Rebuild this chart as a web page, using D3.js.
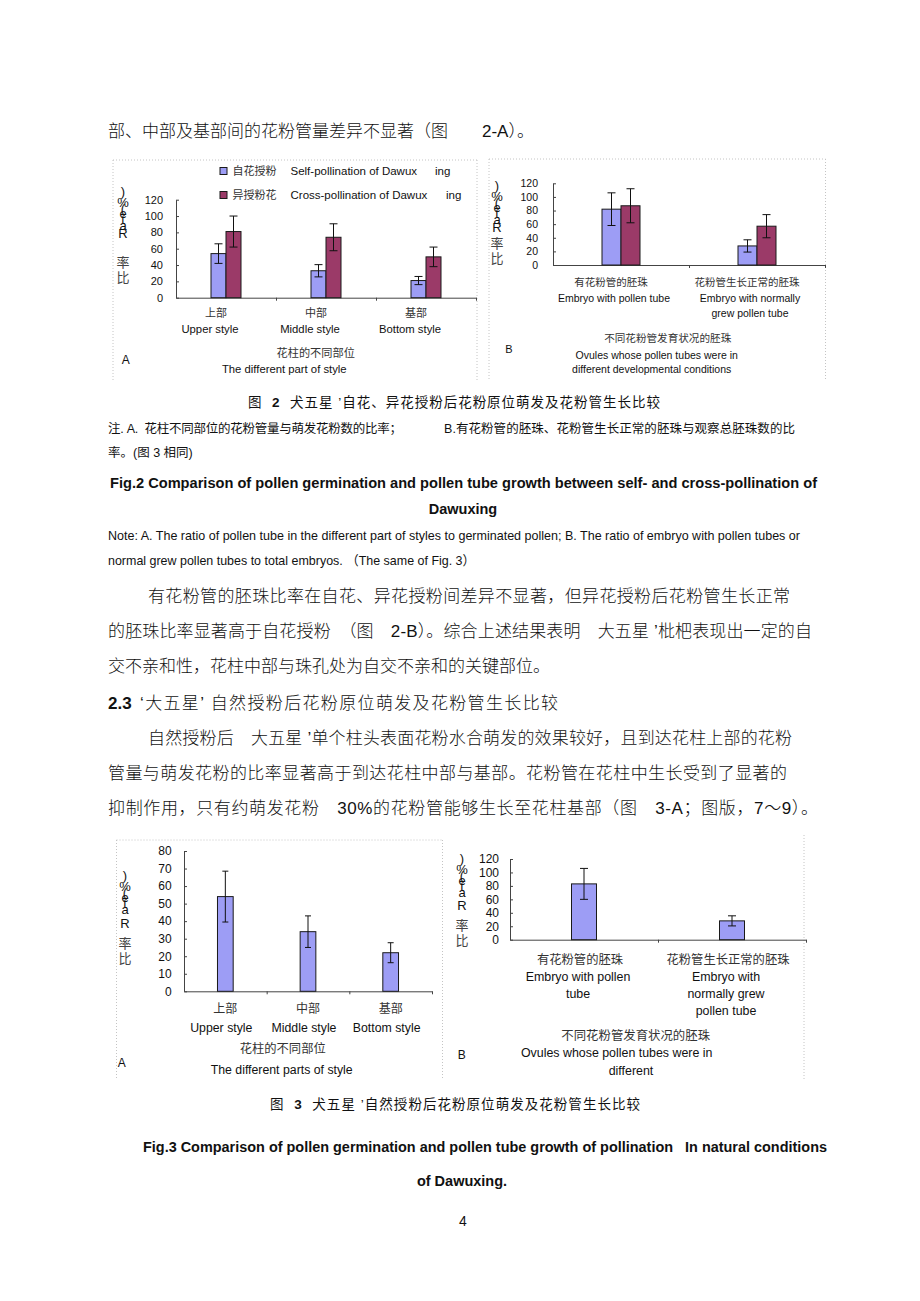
<!DOCTYPE html>
<html>
<head>
<meta charset="utf-8">
<script src="https://cdn.jsdelivr.net/npm/d3@7"></script>
<style>
body{margin:0;background:#fff}
svg{display:block}
text{font-family:"Liberation Sans","Noto Sans CJK SC",sans-serif;white-space:pre}
</style>
</head>
<body>
<svg id="page" width="920" height="1301"></svg>
<script>
// categories
const partsCn = ["上部", "中部", "基部"];
const partsEn = [["Upper style"], ["Middle style"], ["Bottom style"]];
const ovuleCn = ["有花粉管的胚珠", "花粉管生长正常的胚珠"];
const ovuleEn2 = [["Embryo with pollen tube"], ["Embryo with normally", "grew pollen tube"]];
const ovuleEn3 = [["Embryo with pollen", "tube"], ["Embryo with", "normally grew", "pollen tube"]];

// fig 2A: style parts, self vs cross
const selfStyle2 = [54, 33, 21];
const selfStyleErr2 = [12, 7.5, 5];
const crossStyle2 = [81, 74, 50];
const crossStyleErr2 = [19, 16.5, 12];
// fig 2B: ovules
const selfOvule2 = [82, 28];
const selfOvuleErr2 = [24, 9];
const crossOvule2 = [87, 57];
const crossOvuleErr2 = [25, 17];
// fig 3: natural pollination
const natStyle3 = [54, 34, 22];
const natStyleErr3 = [14.5, 9, 5.7];
const natOvule3 = [83, 28];
const natOvuleErr3 = [23, 7.5];

// tick labels
const ticks120 = [0, 20, 40, 60, 80, 100, 120];
const ticks80 = [0, 10, 20, 30, 40, 50, 60, 70, 80];

const selfColor = "#9d9df5";
const crossColor = "#9b3a68";

const svg = d3.select("#page");
svg.append("rect").attr("width", 920).attr("height", 1301).attr("fill", "#fff");

function txt(x, y, s, o = {}) {
    const t = svg.append("text")
        .attr("x", x).attr("y", y)
        .attr("font-size", o.size || 17)
        .attr("fill", o.fill || "#111")
        .text(s);
    if (o.bold) t.attr("font-weight", "bold");
    if (o.light) t.attr("font-weight", 300);
    if (o.anchor) t.attr("text-anchor", o.anchor);
    if (o.len) t.attr("textLength", o.len).attr("lengthAdjust", o.adj || "spacing");
    return t;
}

// caption with a bold figure number: 图  N  ...
function caption(x, y, num, rest, len) {
    const t = svg.append("text").attr("x", x).attr("y", y)
        .attr("font-size", 13.5).attr("fill", "#111")
        .attr("textLength", len).attr("lengthAdjust", "spacing");
    t.append("tspan").text("图  ");
    t.append("tspan").attr("font-weight", "bold").text(num);
    t.append("tspan").text("  " + rest);
}

function frame(lines) {
    lines.forEach(l => svg.append("line")
        .attr("x1", l[0]).attr("y1", l[1]).attr("x2", l[2]).attr("y2", l[3])
        .attr("stroke", "#c4c4c4").attr("stroke-dasharray", "1,2"));
}

// the broken vertical axis title: 比率 Rate(%), glyphs piled up as in the scan
function stackLabel(x, top, gapR, gapCn) {
    const glyphs = [[")", 0], ["%", 11], ["(", 17], ["e", 22], ["t", 28], ["a", 34], ["R", gapR],
                    ["率", gapCn], ["比", gapCn + 15]];
    const t = svg.append("text")
        .attr("text-anchor", "middle").attr("dominant-baseline", "central")
        .attr("font-size", 13).attr("fill", "#111");
    glyphs.forEach(d => t.append("tspan")
        .attr("x", x).attr("y", top + d[1])
        .attr("fill", /[\u4e00-\u9fff]/.test(d[0]) ? "#444" : "#111")
        .text(d[0]));
}

function barChart(o) {
    const g = svg.append("g");
    const x = d3.scaleBand().domain(o.cats).range(o.xr);
    const xb = d3.scaleLinear().domain([0, o.cats.length]).range(o.xr);
    const y = d3.scaleLinear().domain([0, d3.max(o.ticks)]).range(o.yr);
    const sub = d3.scaleBand().domain(d3.range(o.series.length))
        .range([-o.bw * o.series.length / 2, o.bw * o.series.length / 2]);

    const xa = g.append("g").attr("transform", `translate(0,${o.yr[0]})`)
        .call(d3.axisBottom(xb).tickValues(d3.range(1, o.cats.length + 1))
            .tickFormat("").tickSizeInner(3).tickSizeOuter(0));
    xa.selectAll("path,line").attr("stroke", "#444");

    const ya = g.append("g").attr("transform", `translate(${o.xr[0]},0)`)
        .call(d3.axisLeft(y).tickValues(o.ticks).tickSizeInner(-3).tickSizeOuter(0).tickPadding(o.pad));
    ya.selectAll("path,line").attr("stroke", "#444");
    ya.attr("font-family", null).attr("font-size", o.tickSize);
    ya.selectAll("text").attr("fill", "#111");

    o.series.forEach((s, si) => {
        s.values.forEach((v, i) => {
            const bx = x(o.cats[i]) + x.bandwidth() / 2 + sub(si);
            const cx = bx + sub.bandwidth() / 2;
            g.append("rect")
                .attr("x", bx).attr("y", y(v))
                .attr("width", sub.bandwidth()).attr("height", y(0) - y(v))
                .attr("fill", s.color).attr("stroke", "#1a1a1a").attr("stroke-width", 1);
            const e = s.err[i];
            const eb = g.append("g").attr("stroke", "#111").attr("stroke-width", 1);
            eb.append("line").attr("x1", cx).attr("x2", cx).attr("y1", y(v + e)).attr("y2", y(v - e));
            [v + e, v - e].forEach(t => eb.append("line")
                .attr("x1", cx - o.cap / 2).attr("x2", cx + o.cap / 2).attr("y1", y(t)).attr("y2", y(t)));
        });
    });

    o.cats.forEach((c, i) => {
        const cx = x(c) + x.bandwidth() / 2;
        txt(cx + o.cnDx, o.cnY, c, {size: o.cnSize, anchor: "middle", fill: "#333"});
        o.en[i].forEach((line, li) =>
            txt(cx + o.enDx, o.enY + li * o.enLh, line, {size: o.enSize, anchor: "middle"}));
    });
}

// ---------- body text above figure 2 ----------
txt(108, 137, "部、中部及基部间的花粉管量差异不显著（图　　2-A）。", {light: true});

// ---------- figure 2A ----------
frame([[113, 160, 113, 380], [113, 160, 477, 160], [477, 160, 477, 380]]);
barChart({
    cats: partsCn, en: partsEn, xr: [176, 476], yr: [297.7, 199.7], ticks: ticks120,
    pad: 13, tickSize: 11, bw: 15, cap: 8,
    series: [{values: selfStyle2, err: selfStyleErr2, color: selfColor},
             {values: crossStyle2, err: crossStyleErr2, color: crossColor}],
    cnY: 317, cnSize: 11, cnDx: -10, enY: 333, enLh: 15, enSize: 11.3, enDx: -16
});
stackLabel(123, 191, 42, 71);
svg.append("rect").attr("x", 220).attr("y", 167.5).attr("width", 7).attr("height", 7)
    .attr("fill", selfColor).attr("stroke", "#1a1a1a");
svg.append("rect").attr("x", 220).attr("y", 191.5).attr("width", 7).attr("height", 7)
    .attr("fill", crossColor).attr("stroke", "#1a1a1a");
txt(232.5, 175, "自花授粉", {size: 11, fill: "#333"});
txt(290.5, 175, "Self-pollination of Dawux", {size: 11.5});
txt(435, 175, "ing", {size: 11.5});
txt(232.5, 199, "异授粉花", {size: 11, fill: "#333"});
txt(290.5, 199, "Cross-pollination of Dawux", {size: 11.5});
txt(446, 199, "ing", {size: 11.5});
txt(315.7, 357, "花柱的不同部位", {size: 11.2, anchor: "middle", fill: "#333"});
txt(284.3, 372.5, "The different part of style", {size: 11.3, anchor: "middle"});
txt(125.7, 364, "A", {size: 12, anchor: "middle"});

// ---------- figure 2B ----------
frame([[489, 159, 489, 380], [489, 159, 825.5, 159], [825.5, 159, 825.5, 380]]);
barChart({
    cats: ovuleCn, en: ovuleEn2, xr: [553, 825], yr: [265, 183.3], ticks: ticks120,
    pad: 15, tickSize: 10.5, bw: 19, cap: 8,
    series: [{values: selfOvule2, err: selfOvuleErr2, color: selfColor},
             {values: crossOvule2, err: crossOvuleErr2, color: crossColor}],
    cnY: 285.5, cnSize: 10.5, cnDx: -10, enY: 301.5, enLh: 15.3, enSize: 10.5, enDx: -7
});
stackLabel(497, 185, 42, 58);
txt(667.7, 341.5, "不同花粉管发育状况的胚珠", {size: 10.6, anchor: "middle", fill: "#333"});
txt(656.7, 359, "Ovules whose pollen tubes were in", {size: 10.5, anchor: "middle"});
txt(651.7, 372.5, "different developmental conditions", {size: 10.5, anchor: "middle"});
txt(509, 353, "B", {size: 11, anchor: "middle"});

// ---------- figure 2 captions ----------
caption(248, 407, "2", "犬五星 ’自花、异花授粉后花粉原位萌发及花粉管生长比较", 412);
txt(108, 433, "注. A.  花柱不同部位的花粉管量与萌发花粉数的比率；", {size: 12.5, len: 294});
txt(444, 433, "B.有花粉管的胚珠、花粉管生长正常的胚珠与观察总胚珠数的比", {size: 12.5, len: 351});
txt(108, 457, "率。(图 3 相同)", {size: 12.5});
txt(110, 488, "Fig.2 Comparison of pollen germination and pollen tube growth between self- and cross-pollination of",
    {size: 14.5, bold: true, len: 707, adj: "spacingAndGlyphs"});
txt(463, 514, "Dawuxing", {size: 14.5, bold: true, anchor: "middle"});
txt(108, 539.5, "Note: A. The ratio of pollen tube in the different part of styles to germinated pollen; B. The ratio of embryo with pollen tubes or",
    {size: 13, len: 692, adj: "spacingAndGlyphs"});
txt(108, 564.5, "normal grew pollen tubes to total embryos. （The same of Fig. 3）",
    {size: 13, len: 367, adj: "spacingAndGlyphs"});

// ---------- body text ----------
txt(148, 602, "有花粉管的胚珠比率在自花、异花授粉间差异不显著，但异花授粉后花粉管生长正常", {len: 642, light: true});
txt(108, 637, "的胚珠比率显著高于自花授粉　（图　2-B）。综合上述结果表明　大五星 ’枇杷表现出一定的自", {len: 704, light: true});
txt(108, 672, "交不亲和性，花柱中部与珠孔处为自交不亲和的关键部位。", {light: true});
txt(108, 709, "2.3", {bold: true});
txt(140, 709, "‘大五星’ 自然授粉后花粉原位萌发及花粉管生长比较", {len: 418, light: true});
txt(148, 744, "自然授粉后　大五星 ’单个柱头表面花粉水合萌发的效果较好，且到达花柱上部的花粉", {len: 644, light: true});
txt(108, 779, "管量与萌发花粉的比率显著高于到达花柱中部与基部。花粉管在花柱中生长受到了显著的", {len: 679, light: true});
txt(108, 814, "抑制作用，只有约萌发花粉　30%的花粉管能够生长至花柱基部（图　3-A；图版，7～9）。", {len: 710, light: true});

// ---------- figure 3A ----------
frame([[116.5, 840, 116.5, 1080], [116.5, 840, 442.5, 840], [442.5, 840, 442.5, 1080]]);
barChart({
    cats: partsCn, en: partsEn, xr: [184, 432], yr: [991.3, 851], ticks: ticks80,
    pad: 12.3, tickSize: 12, bw: 15.7, cap: 6,
    series: [{values: natStyle3, err: natStyleErr3, color: selfColor}],
    cnY: 1013, cnSize: 12, cnDx: 0, enY: 1032, enLh: 15, enSize: 12.3, enDx: -4
});
stackLabel(125, 875, 48, 68);
txt(282.7, 1052.5, "花柱的不同部位", {size: 12.3, anchor: "middle", fill: "#333"});
txt(281.7, 1073.5, "The different parts of style", {size: 12.3, anchor: "middle"});
txt(121.7, 1067, "A", {size: 12, anchor: "middle"});

// ---------- figure 3B ----------
frame([[804, 835, 804, 1080]]);
barChart({
    cats: ovuleCn, en: ovuleEn3, xr: [510, 806], yr: [939.7, 859], ticks: ticks120,
    pad: 11, tickSize: 12, bw: 25, cap: 8,
    series: [{values: natOvule3, err: natOvuleErr3, color: selfColor}],
    cnY: 963.5, cnSize: 12.3, cnDx: -4, enY: 980.5, enLh: 17, enSize: 12.4, enDx: -6
});
stackLabel(462, 858, 47, 67);
txt(635.7, 1039.5, "不同花粉管发育状况的胚珠", {size: 12.4, anchor: "middle", fill: "#333"});
txt(616.7, 1056.5, "Ovules whose pollen tubes were in", {size: 12.4, anchor: "middle"});
txt(631, 1074.5, "different", {size: 12.4, anchor: "middle"});
txt(461.7, 1058.5, "B", {size: 12, anchor: "middle"});

// ---------- figure 3 captions ----------
caption(270, 1109, "3", "犬五星 ’自然授粉后花粉原位萌发及花粉管生长比较", 370);
txt(143, 1152, "Fig.3 Comparison of pollen germination and pollen tube growth of pollination   In natural conditions",
    {size: 14.5, bold: true, len: 684, adj: "spacingAndGlyphs"});
txt(462, 1186, "of Dawuxing.", {size: 14.5, bold: true, anchor: "middle"});
txt(463, 1226, "4", {size: 14, anchor: "middle"});
</script>
</body>
</html>
